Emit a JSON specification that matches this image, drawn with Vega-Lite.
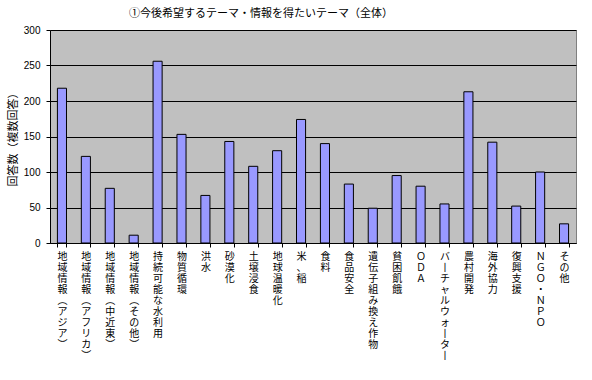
{
  "$schema": "https://vega.github.io/schema/vega-lite/v6.json",
  "width": 526,
  "height": 213,
  "autosize": "none",
  "padding": {"left": 50, "top": 30, "right": 16, "bottom": 137},
  "background": "white",
  "title": {
    "text": "①今後希望するテーマ・情報を得たいテーマ（全体）",
    "font": "Noto Sans CJK JP",
    "fontSize": 11,
    "fontWeight": "normal",
    "color": "black",
    "anchor": "middle",
    "dx": -52,
    "offset": 6
  },
  "data": {
    "values": [
      {"theme": "地域情報（アジア）", "count": 218},
      {"theme": "地域情報（アフリカ）", "count": 122},
      {"theme": "地域情報（中近東）", "count": 77},
      {"theme": "地域情報（その他）", "count": 11},
      {"theme": "持続可能な水利用", "count": 256},
      {"theme": "物質循環", "count": 153},
      {"theme": "洪水", "count": 67},
      {"theme": "砂漠化", "count": 143},
      {"theme": "土壌浸食", "count": 108},
      {"theme": "地球温暖化", "count": 130},
      {"theme": "米、稲", "count": 174},
      {"theme": "食料", "count": 140},
      {"theme": "食品安全", "count": 83},
      {"theme": "遺伝子組み換え作物", "count": 49},
      {"theme": "貧困飢餓", "count": 95},
      {"theme": "ＯＤＡ", "count": 80},
      {"theme": "バーチャルウォーター", "count": 55},
      {"theme": "農村開発", "count": 213},
      {"theme": "海外協力", "count": 142},
      {"theme": "復興支援", "count": 52},
      {"theme": "ＮＧＯ・ＮＰＯ", "count": 100},
      {"theme": "その他", "count": 27}
    ]
  },
  "mark": {"type": "bar", "fill": "#9999FF", "stroke": "black", "strokeWidth": 1},
  "encoding": {
    "x": {
      "field": "theme",
      "type": "nominal",
      "sort": null,
      "scale": {"paddingInner": 0.62, "paddingOuter": 0.31},
      "axis": {
        "title": null,
        "labelAngle": 0,
        "labelAlign": "center",
        "labelBaseline": "top",
        "labelLineHeight": 11,
        "labelPadding": 4,
        "labelFont": "Noto Sans CJK JP",
        "labelFontSize": 10,
        "labelColor": "black",
        "labelLimit": 0,
        "labelOverlap": false,
        "labelExpr": "split(replace(replace(replace(datum.label, regexp('（','g'), '︵'), regexp('）','g'), '︶'), regexp('ー','g'), '丨'), '')",
        "tickBand": "extent",
        "tickColor": "black",
        "tickSize": 4,
        "domainColor": "black",
        "grid": false
      }
    },
    "y": {
      "field": "count",
      "type": "quantitative",
      "scale": {"domain": [0, 300], "nice": false},
      "axis": {
        "title": "回答数（複数回答）",
        "titleFont": "Noto Sans CJK JP",
        "titleFontSize": 11,
        "titleFontWeight": "normal",
        "titleColor": "black",
        "titlePadding": 5,
        "values": [0, 50, 100, 150, 200, 250, 300],
        "labelFont": "Liberation Sans",
        "labelFontSize": 10,
        "labelColor": "black",
        "labelPadding": 6,
        "tickColor": "black",
        "tickSize": 4,
        "domainColor": "black",
        "grid": true,
        "gridColor": "black",
        "gridOpacity": 1
      }
    }
  },
  "config": {
    "view": {"fill": "#C0C0C0", "stroke": "#808080", "strokeWidth": 1}
  }
}
